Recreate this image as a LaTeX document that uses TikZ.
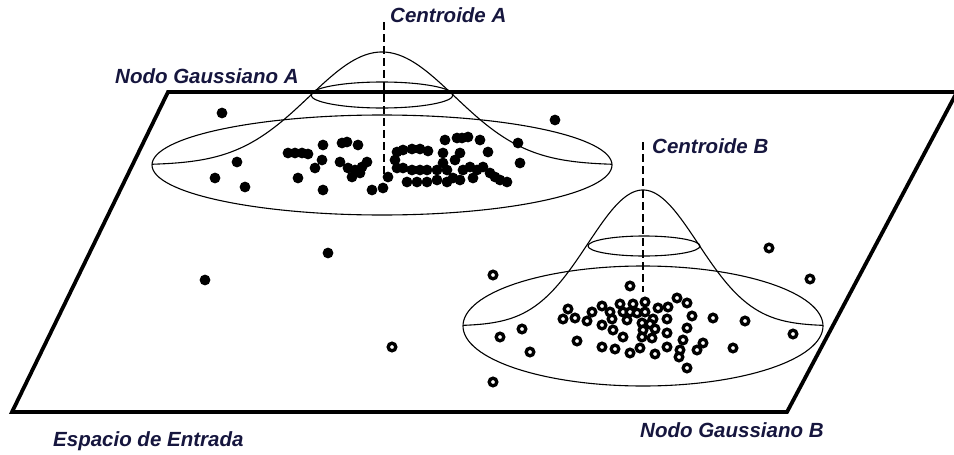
\documentclass[tikz,border=0pt]{standalone}
\usepackage{fontspec}
\setmainfont{Liberation Sans}
\begin{document}
\begin{tikzpicture}[x=1pt,y=-1pt,
  labeltext/.style={inner sep=0pt,anchor=base west,text=labelnavy,
    font=\fontsize{20.5}{22}\selectfont\bfseries\itshape},
  plane/.style={line width=3.8pt,line join=miter},
  contour/.style={line width=1.1pt},
  axisline/.style={line width=1.3pt,dash pattern=on 8pt off 4pt},
  fdot/.style={fill=black,draw=none},
  odot/.style={draw=black,line width=3.3pt,fill=white}]
\definecolor{labelnavy}{RGB}{22,22,62}
\useasboundingbox (0,0) rectangle (954,455);
\fill[white] (0,0) rectangle (954,455);

% input plane
\draw[plane] (168,92) -- (957,92) -- (787,412) -- (12,412) -- cycle;

% Gaussian node A: profile and two level sets
\draw[contour] plot[domain=-230:230,samples=140,smooth]
  ({382+\x},{165-113*exp(-((\x/100)^2)/1.0546)});
\draw[contour] (382,165) ellipse [x radius=230,y radius=50];
\draw[contour] (382,95) ellipse [x radius=71,y radius=13];

% Gaussian node B: profile and two level sets
\draw[contour] plot[domain=-180:180,samples=120,smooth]
  ({643+\x},{326-136*exp(-((\x/100)^2)/0.6054)});
\draw[contour] (643,326) ellipse [x radius=180,y radius=60];
\draw[contour] (644,246) ellipse [x radius=56,y radius=10];

% centroid axes
\coordinate (cAtop) at (384,22);
\coordinate (cAbot) at (384,177);
\coordinate (cBtop) at (643,142);
\coordinate (cBbot) at (643,292);
\draw[axisline] (cAtop) -- (cAbot);
\draw[axisline] (cBtop) -- (cBbot);

% samples of class A (filled)
\foreach \p in {(288,153),(295,153),(302,153),(308,154),
  (323,145),(342,143),(347,142),(358,145),
  (322,160),(315,168),(340,162),
  (348,168),(355,170),(362,167),(367,162),
  (352,177),(360,173),(298,178),(323,190),(372,190),(383,188),(388,177),
  (397,152),(403,150),(412,149),(420,149),(428,151),
  (395,160),(397,168),(403,168),(412,170),(420,170),(427,170),
  (407,182),(417,182),(427,182),(437,180),(443,153),
  (445,140),(457,138),(462,138),(468,137),(480,140),
  (437,170),(447,170),(443,163),(455,160),(460,153),
  (463,170),(470,167),(477,170),(473,178),
  (453,178),(460,180),(447,182),
  (483,167),(490,173),(495,177),(488,152),(500,180),(507,182),
  (518,143),(520,163),
  (222,113),(555,120),(237,162),(215,178),(245,187),(328,253),(205,280)}
  \fill[fdot] \p circle[radius=5.4];

% samples of class B (open)
\foreach \p in {(493,275),(769,248),(810,279),(493,382),(793,334),(745,321),
  (733,348),(713,318),(500,337),(522,329),(530,352),(392,347),
  (630,286),(568,309),(563,319),(575,318),(587,321),(592,312),(602,306),
  (610,312),(620,304),(623,312),(630,312),(633,304),(645,302),(645,312),
  (637,313),(658,308),(668,307),(677,298),(687,303),(692,316),(612,319),
  (627,320),(642,323),(653,319),(602,325),(613,330),(623,337),(643,330),
  (650,324),(655,329),(667,319),(667,333),(687,328),(577,341),(602,347),
  (615,349),(630,353),(640,348),(652,338),(642,337),(655,354),(667,347),
  (680,350),(683,340),(697,350),(703,343),(679,357),(687,368)}
  \draw[odot] \p circle[radius=3.8];

% labels
\node[labeltext] (lblCA) at (390,23) {Centroide A};
\node[labeltext] (lblNA) at (115,83) {Nodo Gaussiano A};
\node[labeltext] (lblCB) at (652,153) {Centroide B};
\node[labeltext] (lblNB) at (640,437) {Nodo Gaussiano B};
\node[labeltext] (lblES) at (53,446) {Espacio de Entrada};
\end{tikzpicture}
\end{document}
